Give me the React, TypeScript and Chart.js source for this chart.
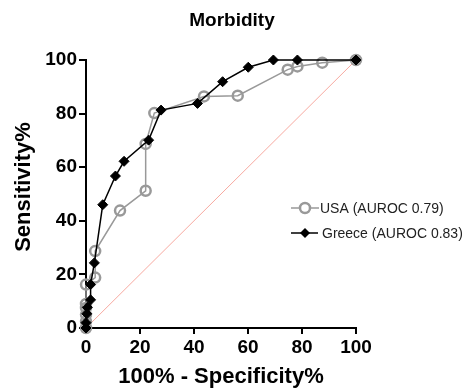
import React, { useEffect, useRef } from "react";
import { Chart, registerables } from "chart.js";

Chart.register(...registerables);

const chartTitle = "Morbidity";
const xAxisTitle = "100% - Specificity%";
const yAxisTitle = "Sensitivity%";
const usaLabel = "USA (AUROC 0.79)";
const greeceLabel = "Greece (AUROC 0.83)";

const usaX = [0, 0, 0, 0, 0, 0, 3.4, 3.4, 12.6, 22.1, 22.1, 25.3, 43.7, 56.2, 74.7, 78.3, 87.5, 100];
const usaY = [0, 2.5, 5, 7.5, 9, 16.2, 18.8, 28.7, 43.8, 51.2, 68.7, 80.2, 86.4, 86.7, 96.4, 97.6, 99, 100];

const greeceX = [0, 0, 0.3, 0.5, 1.7, 1.7, 3.1, 6.2, 10.9, 14.1, 23.2, 27.8, 41.3, 50.6, 60.1, 69.4, 78.3, 100];
const greeceY = [0, 2, 5.3, 7.7, 10.5, 16.2, 24.3, 46, 56.7, 62.2, 70.1, 81.3, 83.8, 91.9, 97.3, 100, 100, 100];

const refX = [0, 100];
const refY = [0, 100];

const axisTicks = [0, 20, 40, 60, 80, 100];

const FONT = "'Liberation Sans', Arial, sans-serif";
const USA_COLOR = "#999999";
const GREECE_COLOR = "#000000";
const REF_COLOR = "#f7a9a0";

const toPoints = (xs: number[], ys: number[]) => xs.map((x, i) => ({ x, y: ys[i] }));

const textPlugin = {
  id: "customText",
  afterDraw(chart: any) {
    const ctx = chart.ctx as CanvasRenderingContext2D;
    const area = chart.chartArea;
    ctx.save();
    ctx.fillStyle = "#000";
    ctx.textAlign = "center";
    ctx.textBaseline = "middle";
    ctx.font = `bold 19px ${FONT}`;
    ctx.fillText(chartTitle, 232, 21);
    ctx.font = `bold 22px ${FONT}`;
    ctx.fillText(xAxisTitle, (area.left + area.right) / 2, 377);
    ctx.save();
    ctx.translate(24, 187);
    ctx.rotate(-Math.PI / 2);
    ctx.fillText(yAxisTitle, 0, 0);
    ctx.restore();

    // legend
    ctx.textAlign = "left";
    ctx.font = `14px ${FONT}`;
    // USA
    ctx.strokeStyle = USA_COLOR;
    ctx.lineWidth = 1.5;
    ctx.beginPath();
    ctx.moveTo(291, 208);
    ctx.lineTo(319, 208);
    ctx.stroke();
    ctx.beginPath();
    ctx.arc(305, 208, 5, 0, Math.PI * 2);
    ctx.fillStyle = "#fff";
    ctx.fill();
    ctx.lineWidth = 2.5;
    ctx.stroke();
    ctx.fillStyle = "#222";
    ctx.fillText(usaLabel, 320, 209);
    // Greece
    ctx.strokeStyle = GREECE_COLOR;
    ctx.lineWidth = 1.5;
    ctx.beginPath();
    ctx.moveTo(291, 233);
    ctx.lineTo(318, 233);
    ctx.stroke();
    ctx.beginPath();
    ctx.moveTo(300, 233);
    ctx.lineTo(305, 228);
    ctx.lineTo(310, 233);
    ctx.lineTo(305, 238);
    ctx.closePath();
    ctx.fillStyle = GREECE_COLOR;
    ctx.fill();
    ctx.fillStyle = "#222";
    ctx.fillText(greeceLabel, 322, 234);
    ctx.restore();
  },
};

export default function App() {
  const ref = useRef<HTMLCanvasElement | null>(null);
  useEffect(() => {
    if (!ref.current) return;
    const chart = new Chart(ref.current, {
      type: "scatter",
      data: {
        datasets: [
          {
            label: greeceLabel,
            data: toPoints(greeceX, greeceY),
            showLine: true,
            borderColor: GREECE_COLOR,
            borderWidth: 1.5,
            backgroundColor: GREECE_COLOR,
            pointStyle: "rectRot",
            pointRadius: 5,
            pointBorderWidth: 1,
            pointBorderColor: GREECE_COLOR,
            pointBackgroundColor: GREECE_COLOR,
            clip: false,
            order: 0,
          } as any,
          {
            label: usaLabel,
            data: toPoints(usaX, usaY),
            showLine: true,
            borderColor: USA_COLOR,
            borderWidth: 1.5,
            backgroundColor: "rgba(255,255,255,0)",
            pointStyle: "circle",
            pointRadius: 5,
            pointBorderWidth: 2.5,
            pointBorderColor: USA_COLOR,
            pointBackgroundColor: "rgba(255,255,255,0)",
            clip: false,
            order: 1,
          } as any,
          {
            label: "ref",
            data: toPoints(refX, refY),
            showLine: true,
            borderColor: REF_COLOR,
            borderWidth: 1,
            pointRadius: 0,
            clip: false,
            order: 2,
          } as any,
        ],
      },
      options: {
        responsive: false,
        animation: false,
        layout: { padding: { left: 0, top: 60, right: 110, bottom: 0 } },
        plugins: {
          legend: { display: false },
          title: { display: false },
          tooltip: { enabled: false },
        },
        scales: {
          x: {
            type: "linear",
            min: 0,
            max: 100,
            afterBuildTicks: (scale: any) => {
              scale.ticks = axisTicks.map((v) => ({ value: v }));
            },
            afterFit: (scale: any) => {
              scale.height = 64;
            },
            grid: {
              drawOnChartArea: false,
              drawTicks: true,
              tickLength: 6,
              color: "#000",
              lineWidth: 2,
            },
            border: { display: true, color: "#000", width: 2 },
            ticks: {
              padding: 2,
              color: "#000",
              font: { family: FONT, size: 19, weight: "bold" },
              maxRotation: 0,
            },
          },
          y: {
            type: "linear",
            min: 0,
            max: 100,
            afterBuildTicks: (scale: any) => {
              scale.ticks = axisTicks.map((v) => ({ value: v }));
            },
            afterFit: (scale: any) => {
              scale.width = 86;
            },
            grid: {
              drawOnChartArea: false,
              drawTicks: true,
              tickLength: 7,
              color: "#000",
              lineWidth: 2,
            },
            border: { display: true, color: "#000", width: 2 },
            ticks: {
              padding: 2,
              color: "#000",
              font: { family: FONT, size: 19, weight: "bold" },
            },
          },
        },
      } as any,
      plugins: [textPlugin],
    });
    return () => chart.destroy();
  }, []);
  return (
    <div style={{ position: "fixed", left: 0, top: 0, width: 466, height: 392, background: "#fff" }}>
      <canvas ref={ref} width={466} height={392} style={{ display: "block" }} />
    </div>
  );
}
